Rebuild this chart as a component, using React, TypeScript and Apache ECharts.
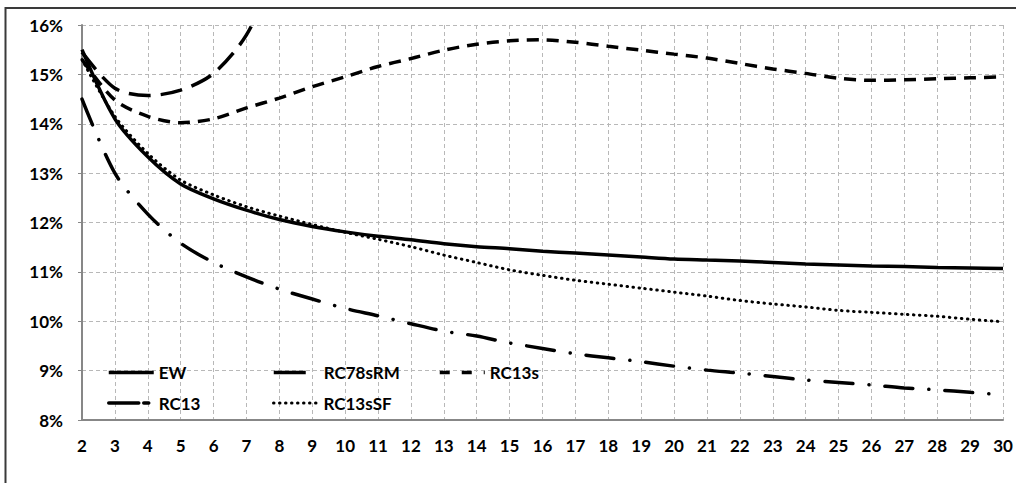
import React, { useEffect, useRef } from "react";
import * as echarts from "echarts";

const xs = [2, 3, 4, 5, 6, 7, 8, 9, 10, 11, 12, 13, 14, 15, 16, 17, 18, 19, 20, 21, 22, 23, 24, 25, 26, 27, 28, 29, 30];

const EW = [15.5, 14.1, 13.33, 12.78, 12.48, 12.25, 12.06, 11.92, 11.81, 11.72, 11.65, 11.57, 11.51, 11.47, 11.42, 11.38, 11.34, 11.3, 11.26, 11.24, 11.22, 11.19, 11.16, 11.14, 11.12, 11.11, 11.09, 11.08, 11.07];
const RC78sRM = [15.45, 14.72, 14.57, 14.68, 15.02, 15.8, 17.2];
const RC13s = [15.3, 14.48, 14.15, 14.02, 14.1, 14.32, 14.52, 14.75, 14.95, 15.16, 15.32, 15.49, 15.61, 15.68, 15.7, 15.65, 15.57, 15.49, 15.41, 15.33, 15.22, 15.11, 15.02, 14.92, 14.88, 14.89, 14.91, 14.93, 14.95];
const RC13 = [14.5, 13.0, 12.17, 11.58, 11.19, 10.9, 10.65, 10.45, 10.26, 10.11, 9.95, 9.8, 9.7, 9.56, 9.45, 9.34, 9.26, 9.18, 9.09, 9.01, 8.95, 8.88, 8.81, 8.76, 8.71, 8.65, 8.61, 8.56, 8.51];
const RC13sSF = [15.3, 14.15, 13.4, 12.86, 12.56, 12.32, 12.13, 11.96, 11.8, 11.66, 11.51, 11.34, 11.19, 11.04, 10.93, 10.83, 10.75, 10.67, 10.59, 10.51, 10.42, 10.35, 10.29, 10.22, 10.18, 10.14, 10.1, 10.04, 9.99];

const FONT = "Lato";

function pairs(vals: number[]) {
  return vals.map((v, i) => [xs[i], v]);
}

export default function App() {
  const ref = useRef<HTMLDivElement>(null);
  useEffect(() => {
    if (!ref.current) return;
    const chart = echarts.init(ref.current, null, { renderer: "svg" });
    const labelStyle = { fontFamily: FONT, fontWeight: "bold" as const, fontSize: 17, color: "#000" };
    const grid = { show: true, lineStyle: { type: [4, 3], color: "#b8b8b8", width: 1 } };
    const axisLine = { show: true, onZero: false, lineStyle: { color: "#878787", width: 2 } };
    const mkLegend = (name: string, left: number, top: number, ls: any) => ({
      data: [name],
      left,
      top,
      padding: 0,
      itemWidth: 45,
      itemHeight: 14,
      orient: "horizontal",
      selectedMode: false,
      textStyle: { ...labelStyle },
      itemStyle: { opacity: 0, borderWidth: 0 },
      lineStyle: { color: "#000", width: 3.5, ...ls },
    });
    const base = { type: "line", symbol: "none", showSymbol: false, smooth: 0.3, clip: true, color: "#000" };
    chart.setOption({
      animation: false,
      backgroundColor: "#fff",
      grid: { left: 82, right: 13, top: 25, bottom: 63 },
      xAxis: {
        type: "value",
        min: 2,
        max: 30,
        interval: 1,
        axisLine,
        axisTick: { show: false },
        axisLabel: { ...labelStyle, margin: 17 },
        splitLine: grid,
      },
      yAxis: {
        type: "value",
        min: 8,
        max: 16,
        interval: 1,
        axisLine,
        axisTick: { show: true, length: 4, lineStyle: { color: "#878787", width: 1 } },
        axisLabel: { ...labelStyle, margin: 19, formatter: "{value}%" },
        splitLine: grid,
      },
      legend: [
        mkLegend("EW", 107, 364, { type: "solid" }),
        mkLegend("RC78sRM", 272, 364, { type: [32, 13] }),
        mkLegend("RC13s", 438, 364, { type: [10, 12] }),
        mkLegend("RC13", 107, 394.5, { type: [30, 5, 5, 10] }),
        mkLegend("RC13sSF", 272, 394.5, { type: [0.5, 5.5], cap: "round", width: 3 }),
      ],
      series: [
        { ...base, name: "EW", data: pairs(EW), lineStyle: { color: "#000", width: 3.5, type: "solid" } },
        { ...base, name: "RC78sRM", data: pairs(RC78sRM), lineStyle: { color: "#000", width: 3.5, type: [22, 10] } },
        { ...base, name: "RC13s", data: pairs(RC13s), lineStyle: { color: "#000", width: 3.5, type: [12, 8] } },
        { ...base, name: "RC13", data: pairs(RC13), lineStyle: { color: "#000", width: 3.5, type: [28, 16, 0.1, 16], cap: "round" } },
        { ...base, name: "RC13sSF", data: pairs(RC13sSF), lineStyle: { color: "#000", width: 3, type: [0.5, 5.5], cap: "round" } },
      ],
      graphic: [
        {
          type: "rect",
          silent: true,
          shape: { x: 5.5, y: 8, width: 1200, height: 700 },
          style: { fill: "none", stroke: "#3a3a3a", lineWidth: 2 },
        },
      ],
    });
    return () => chart.dispose();
  }, []);
  return <div ref={ref} style={{ position: "fixed", left: 0, top: 0, width: 1016, height: 483, background: "#fff" }} />;
}
